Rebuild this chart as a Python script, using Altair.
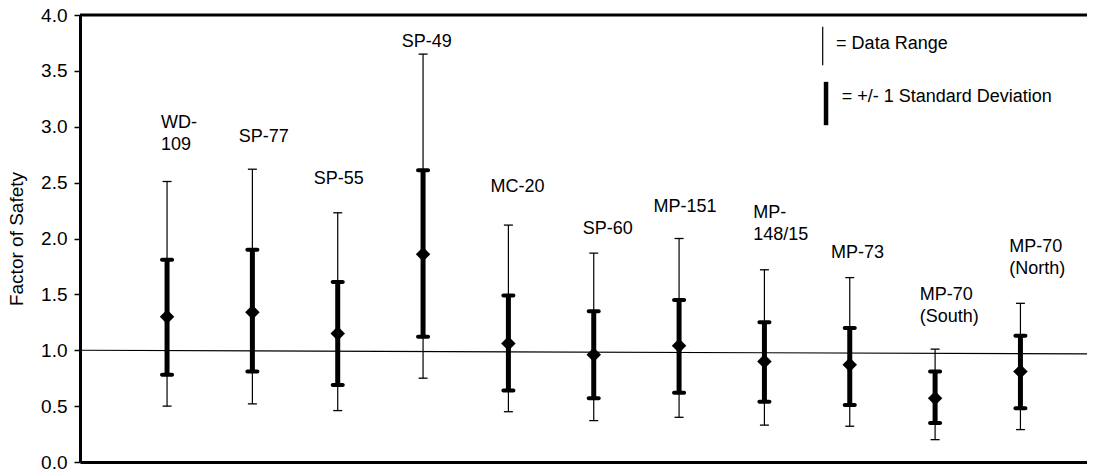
import altair as alt
import pandas as pd

# ---- data ----
sites = ["WD-109", "SP-77", "SP-55", "SP-49", "MC-20", "SP-60", "MP-151",
         "MP-148/15", "MP-73", "MP-70 (South)", "MP-70 (North)"]
label_text = ["WD-\n109", "SP-77", "SP-55", "SP-49", "MC-20", "SP-60", "MP-151",
              "MP-\n148/15", "MP-73", "MP-70\n(South)", "MP-70\n(North)"]
position = [1, 2, 3, 4, 5, 6, 7, 8, 9, 10, 11]
mean = [1.30, 1.34, 1.15, 1.86, 1.06, 0.96, 1.04, 0.90, 0.87, 0.57, 0.81]
sd_low = [0.78, 0.81, 0.69, 1.12, 0.64, 0.57, 0.62, 0.54, 0.51, 0.35, 0.48]
sd_high = [1.81, 1.90, 1.61, 2.61, 1.49, 1.35, 1.45, 1.25, 1.20, 0.81, 1.13]
range_low = [0.50, 0.52, 0.46, 0.75, 0.45, 0.37, 0.40, 0.33, 0.32, 0.20, 0.29]
range_high = [2.51, 2.62, 2.23, 3.65, 2.12, 1.87, 2.00, 1.72, 1.65, 1.01, 1.42]

# label anchor (left edge, first-line centre) in data units
label_x = [0.93, 1.84, 2.72, 3.75, 4.79, 5.87, 6.70, 7.87, 8.78, 9.82, 10.87]
label_y = [3.04, 2.92, 2.54, 3.77, 2.47, 2.09, 2.29, 2.24, 1.88, 1.50, 1.93]

# reference line near FS = 1
ref_x = [-0.02, 11.78]
ref_y = [1.00, 0.967]

# legend
legend_text = ["= Data Range", "= +/- 1 Standard Deviation"]
legend_text_x = [8.84, 8.905]
legend_text_y = [3.74, 3.27]
legend_line_x = [8.683, 8.722]
legend_line_y = [3.894, 3.402]
legend_line_y2 = [3.551, 3.014]
legend_line_w = [1.2, 4.5]

x_domain = [-0.02, 11.78]
y_domain = [0, 4]

FONT = "Liberation Sans"

df = pd.DataFrame({
    "site": sites, "pos": position, "mean": mean,
    "sd_low": sd_low, "sd_high": sd_high,
    "r_low": range_low, "r_high": range_high,
})
range_caps = df.melt(id_vars=["site", "pos"], value_vars=["r_low", "r_high"], value_name="v")
sd_caps = df.melt(id_vars=["site", "pos"], value_vars=["sd_low", "sd_high"], value_name="v")
labels = pd.DataFrame({"t": label_text, "x": label_x, "y": label_y})
ref = pd.DataFrame({"x": ref_x, "y": ref_y})
frame = pd.DataFrame({"x": [x_domain[0]], "x2": [x_domain[1]], "y": [y_domain[1]]})
leg_lines = pd.DataFrame({"x": legend_line_x, "y": legend_line_y, "y2": legend_line_y2, "w": legend_line_w})
leg_text = pd.DataFrame({"t": legend_text, "x": legend_text_x, "y": legend_text_y})

xs = alt.Scale(domain=x_domain, nice=False, zero=False)
ys = alt.Scale(domain=y_domain, nice=False, zero=False)
x_axis = alt.Axis(labels=False, ticks=False, grid=False, title=None,
                  domainWidth=3, domainColor="black")
y_axis = alt.Axis(title="Factor of Safety", values=[0, 0.5, 1, 1.5, 2, 2.5, 3, 3.5, 4],
                  format=".1f", grid=False, domainWidth=3, domainColor="black",
                  tickColor="black", tickWidth=1.5, tickSize=6, labelPadding=7,
                  labelFontSize=19, labelFont=FONT, labelColor="black",
                  titleFontSize=19, titleFont=FONT, titleFontWeight="normal",
                  titleColor="black", titlePadding=14)

X = lambda f: alt.X(f, type="quantitative", scale=xs, axis=x_axis)
Y = lambda f: alt.Y(f, type="quantitative", scale=ys, axis=y_axis)

ref_line = alt.Chart(ref).mark_line(color="black", strokeWidth=1.2).encode(x=X("x"), y=Y("y"))

ranges = alt.Chart(df).mark_rule(color="black", strokeWidth=1.2).encode(
    x=X("pos"), y=Y("r_low"), y2="r_high")
rcaps = alt.Chart(range_caps).mark_tick(color="black", orient="horizontal", size=9,
                                         thickness=1.3, opacity=1).encode(x=X("pos"), y=Y("v"))
sds = alt.Chart(df).mark_rule(color="black", strokeWidth=5).encode(
    x=X("pos"), y=Y("sd_low"), y2="sd_high")
scaps = alt.Chart(sd_caps).mark_tick(color="black", orient="horizontal", size=14,
                                      thickness=4, opacity=1, cornerRadius=2).encode(x=X("pos"), y=Y("v"))
diamonds = alt.Chart(df).mark_point(shape="diamond", filled=True, color="black",
                                    size=210, opacity=1).encode(x=X("pos"), y=Y("mean"))

site_labels = alt.Chart(labels).mark_text(font=FONT, fontSize=18, align="left", baseline="top",
                                          dy=-8, lineBreak="\n", lineHeight=22,
                                          color="black").encode(
    x=X("x"), y=Y("y"), text="t:N")

legend_lines = alt.Chart(leg_lines).mark_rule(color="black").encode(
    x=X("x"), y=Y("y"), y2="y2",
    strokeWidth=alt.StrokeWidth("w:Q", scale=None, legend=None))
legend_labels = alt.Chart(leg_text).mark_text(font=FONT, fontSize=18, align="left",
                                              baseline="middle", color="black").encode(
    x=X("x"), y=Y("y"), text="t:N")

top_border = alt.Chart(frame).mark_rule(color="black", strokeWidth=3).encode(
    x=X("x"), x2="x2", y=Y("y"))

chart = alt.layer(
    ref_line, ranges, rcaps, sds, scaps, diamonds, site_labels,
    legend_lines, legend_labels, top_border
).properties(
    width=1007, height=447,
    autosize=alt.AutoSizeParams(type="none"),
    padding={"left": 72, "top": 7, "right": 0, "bottom": 7},
).configure_view(stroke=None).configure(background="white")

chart.save("out.html", embed_options={"renderer": "svg", "actions": False})
